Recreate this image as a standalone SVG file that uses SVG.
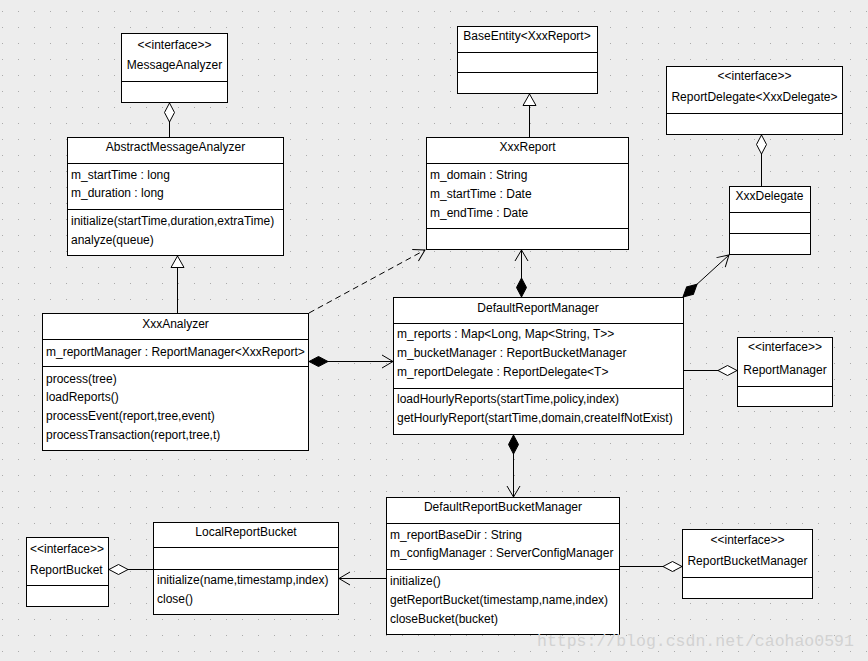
<svg xmlns="http://www.w3.org/2000/svg" width="868" height="661" viewBox="0 0 868 661">
<style>
.box rect{fill:#fff;stroke:#000;stroke-width:1}
.box line{stroke:#000;stroke-width:1}
text{font-family:"Liberation Sans",Arial,sans-serif;font-size:12px;fill:#000}
.c{text-anchor:middle}
#connectors path{fill:none;stroke:#000;stroke-width:1}
.dash{stroke-dasharray:6 4}
.wm{font-family:"Liberation Mono","DejaVu Sans Mono",monospace;font-size:16.5px;fill:#d2d2d2}
</style>
<defs>
<pattern id="grid" width="16" height="16" patternUnits="userSpaceOnUse" x="2" y="11">
<rect width="1" height="1" fill="#aaaaaa"/>
</pattern>
<marker id="arrow" viewBox="-12 -8 13 16" markerWidth="13" markerHeight="16" refX="0" refY="0" orient="auto" markerUnits="userSpaceOnUse">
<path d="M-11,-6.5 L0,0 L-11,6.5" fill="none" stroke="#000" stroke-width="1"/>
</marker>
<marker id="tri" viewBox="-13 -8 14 16" markerWidth="14" markerHeight="16" refX="0" refY="0" orient="auto" markerUnits="userSpaceOnUse">
<path d="M0,0 L-11.5,-6.5 L-11.5,6.5 Z" fill="#fff" stroke="#000" stroke-width="1"/>
</marker>
<marker id="dHollow" viewBox="-1 -6 21 12" markerWidth="21" markerHeight="12" refX="0" refY="0" orient="auto" markerUnits="userSpaceOnUse">
<path d="M0,0 L9.5,-5 L19,0 L9.5,5 Z" fill="#fff" stroke="#000" stroke-width="1"/>
</marker>
<marker id="dFilled" viewBox="-1 -6 21 12" markerWidth="21" markerHeight="12" refX="0" refY="0" orient="auto" markerUnits="userSpaceOnUse">
<path d="M0,0 L9.5,-5 L19,0 L9.5,5 Z" fill="#000" stroke="#000" stroke-width="1"/>
</marker>
</defs>
<rect width="868" height="661" fill="#ededed"/>
<rect width="868" height="661" fill="url(#grid)"/>

<g id="connectors">
<path d="M169.5,103 V137" marker-start="url(#dHollow)"/>
<path d="M177.5,313 V256" marker-end="url(#tri)"/>
<path d="M529.5,137 V94" marker-end="url(#tri)"/>
<path d="M761.5,135 V186" marker-start="url(#dHollow)"/>
<path d="M309,361.5 H393" marker-start="url(#dFilled)" marker-end="url(#arrow)"/>
<path class="dash" d="M309,313 L425,250" marker-end="url(#arrow)"/>
<path d="M521.5,297 V250" marker-start="url(#dFilled)" marker-end="url(#arrow)"/>
<path d="M683,297 L729,255" marker-start="url(#dFilled)" marker-end="url(#arrow)"/>
<path d="M737,370.5 H683" marker-start="url(#dHollow)"/>
<path d="M513.5,435 V497" marker-start="url(#dFilled)" marker-end="url(#arrow)"/>
<path d="M682,566.5 H620" marker-start="url(#dHollow)"/>
<path d="M386,578.5 H339" marker-end="url(#arrow)"/>
<path d="M109,569.5 H153" marker-start="url(#dHollow)"/>
</g>

<g id="MessageAnalyzer" class="box">
<rect x="121.5" y="33.5" width="106" height="69"/>
<line x1="121.5" y1="81.5" x2="227.5" y2="81.5"/>
<text class="c" x="174.5" y="48.5">&lt;&lt;interface&gt;&gt;</text>
<text class="c" x="174.5" y="68.5">MessageAnalyzer</text>
</g>

<g id="AbstractMessageAnalyzer" class="box">
<rect x="67.5" y="137.5" width="216" height="118"/>
<line x1="67.5" y1="163.5" x2="283.5" y2="163.5"/>
<line x1="67.5" y1="209.5" x2="283.5" y2="209.5"/>
<text class="c" x="175.5" y="151">AbstractMessageAnalyzer</text>
<text x="71" y="178.5">m_startTime : long</text>
<text x="71" y="197">m_duration : long</text>
<text x="71" y="224.5">initialize(startTime,duration,extraTime)</text>
<text x="71" y="243.5">analyze(queue)</text>
</g>

<g id="XxxAnalyzer" class="box">
<rect x="42.5" y="313.5" width="266" height="137"/>
<line x1="42.5" y1="339.5" x2="308.5" y2="339.5"/>
<line x1="42.5" y1="366.5" x2="308.5" y2="366.5"/>
<text class="c" x="175.5" y="327.5">XxxAnalyzer</text>
<text x="46" y="355.5">m_reportManager : ReportManager&lt;XxxReport&gt;</text>
<text x="46" y="382.5">process(tree)</text>
<text x="46" y="401">loadReports()</text>
<text x="46" y="419.5">processEvent(report,tree,event)</text>
<text x="46" y="438.5">processTransaction(report,tree,t)</text>
</g>

<g id="BaseEntity" class="box">
<rect x="457.5" y="26.5" width="140" height="67"/>
<line x1="457.5" y1="52.5" x2="597.5" y2="52.5"/>
<line x1="457.5" y1="72.5" x2="597.5" y2="72.5"/>
<text class="c" x="527" y="39.5">BaseEntity&lt;XxxReport&gt;</text>
</g>

<g id="XxxReport" class="box">
<rect x="426.5" y="137.5" width="202" height="112"/>
<line x1="426.5" y1="163.5" x2="628.5" y2="163.5"/>
<line x1="426.5" y1="228.5" x2="628.5" y2="228.5"/>
<text class="c" x="527.5" y="151">XxxReport</text>
<text x="430" y="178.5">m_domain : String</text>
<text x="430" y="197.5">m_startTime : Date</text>
<text x="430" y="216.5">m_endTime : Date</text>
</g>

<g id="ReportDelegate" class="box">
<rect x="666.5" y="66.5" width="176" height="68"/>
<line x1="666.5" y1="113.5" x2="842.5" y2="113.5"/>
<text class="c" x="754.5" y="80">&lt;&lt;interface&gt;&gt;</text>
<text class="c" x="754.5" y="101">ReportDelegate&lt;XxxDelegate&gt;</text>
</g>

<g id="XxxDelegate" class="box">
<rect x="729.5" y="186.5" width="81" height="68"/>
<line x1="729.5" y1="212.5" x2="810.5" y2="212.5"/>
<line x1="729.5" y1="233.5" x2="810.5" y2="233.5"/>
<text class="c" x="769.5" y="199.5">XxxDelegate</text>
</g>

<g id="DefaultReportManager" class="box">
<rect x="393.5" y="297.5" width="290" height="137"/>
<line x1="393.5" y1="323.5" x2="683.5" y2="323.5"/>
<line x1="393.5" y1="388.5" x2="683.5" y2="388.5"/>
<text class="c" x="538" y="312">DefaultReportManager</text>
<text x="397" y="338">m_reports : Map&lt;Long, Map&lt;String, T&gt;&gt;</text>
<text x="397" y="357">m_bucketManager : ReportBucketManager</text>
<text x="397" y="376">m_reportDelegate : ReportDelegate&lt;T&gt;</text>
<text x="397" y="403">loadHourlyReports(startTime,policy,index)</text>
<text x="397" y="422">getHourlyReport(startTime,domain,createIfNotExist)</text>
</g>

<g id="ReportManager" class="box">
<rect x="737.5" y="337.5" width="95" height="69"/>
<line x1="737.5" y1="386.5" x2="832.5" y2="386.5"/>
<text class="c" x="785" y="351">&lt;&lt;interface&gt;&gt;</text>
<text class="c" x="785" y="374">ReportManager</text>
</g>

<g id="DefaultReportBucketManager" class="box">
<rect x="386.5" y="497.5" width="233" height="137"/>
<line x1="386.5" y1="523.5" x2="619.5" y2="523.5"/>
<line x1="386.5" y1="569.5" x2="619.5" y2="569.5"/>
<text class="c" x="503" y="511">DefaultReportBucketManager</text>
<text x="390" y="538.5">m_reportBaseDir : String</text>
<text x="390" y="557">m_configManager : ServerConfigManager</text>
<text x="390" y="584.5">initialize()</text>
<text x="390" y="604">getReportBucket(timestamp,name,index)</text>
<text x="390" y="623">closeBucket(bucket)</text>
</g>

<g id="ReportBucketManager" class="box">
<rect x="682.5" y="529.5" width="130" height="69"/>
<line x1="682.5" y1="577.5" x2="812.5" y2="577.5"/>
<text class="c" x="747.5" y="544">&lt;&lt;interface&gt;&gt;</text>
<text class="c" x="747.5" y="565">ReportBucketManager</text>
</g>

<g id="LocalReportBucket" class="box">
<rect x="153.5" y="522.5" width="185" height="92"/>
<line x1="153.5" y1="547.5" x2="338.5" y2="547.5"/>
<line x1="153.5" y1="569.5" x2="338.5" y2="569.5"/>
<text class="c" x="246" y="535.5">LocalReportBucket</text>
<text x="157" y="584">initialize(name,timestamp,index)</text>
<text x="157" y="603">close()</text>
</g>

<g id="ReportBucket" class="box">
<rect x="26.5" y="537.5" width="82" height="69"/>
<line x1="26.5" y1="585.5" x2="108.5" y2="585.5"/>
<text x="30" y="553">&lt;&lt;interface&gt;&gt;</text>
<text x="30" y="574">ReportBucket</text>
</g>

<text class="wm" x="537" y="646">https://blog.csdn.net/caohao0591</text>
</svg>
